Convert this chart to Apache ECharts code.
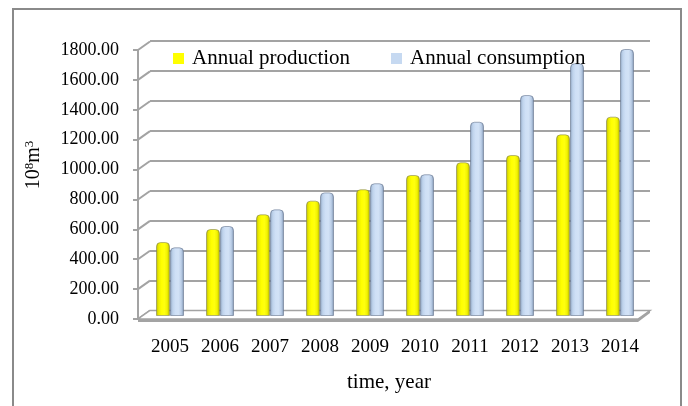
<!DOCTYPE html>
<html>
<head>
<meta charset="utf-8">
<script src="https://cdn.jsdelivr.net/npm/echarts@6/dist/echarts.min.js"></script>
<style>
  html, body { margin: 0; padding: 0; background: #fff; }
  #chart { width: 688px; height: 406px; }
</style>
</head>
<body>
<div id="chart"></div>
<script>
// Natural gas output and use per year, 10^8 m^3
const years = ['2005', '2006', '2007', '2008', '2009', '2010', '2011', '2012', '2013', '2014'];
const production = [493, 580, 678, 769, 845, 940, 1025, 1073, 1211, 1329];
const consumption = [458, 600, 711, 824, 885, 945, 1295, 1473, 1685, 1780];
const valueTicks = [0, 200, 400, 600, 800, 1000, 1200, 1400, 1600, 1800];

const SERIF = '"Liberation Serif", "Times New Roman", serif';
const WALL = '#a3a3a3';
// depth offset between the front axis plane and the back wall
const DX = 12, DY = -8.5;

const chart = echarts.init(document.getElementById('chart'), null, { renderer: 'canvas' });

function grad(stops) {
  return new echarts.graphic.LinearGradient(0, 0, 1, 0, stops.map((c, i) => ({ offset: i / (stops.length - 1), color: c })));
}
const yellowFill = grad(['#b9b900', '#eeee00', '#ffff00', '#ffff10', '#f2f200', '#a6a600']);
const blueFill = grad(['#8aa0bd', '#bfd3ec', '#cfe0f6', '#d2e2f6', '#bccfe8', '#7d93b0']);

const option = {
  animation: false,
  backgroundColor: '#fff',
  grid: [
    // bars (mid depth)
    { left: 145, right: 43, top: 46, bottom: 90 },
    // back wall
    { left: 150, right: 38, top: 41, bottom: 95 },
    // front axis plane
    { left: 138, right: 50, top: 50, bottom: 87 }
  ],
  xAxis: [
    {
      gridIndex: 0, type: 'category', data: years,
      axisLine: { show: false }, axisTick: { show: false },
      axisLabel: { margin: 22, color: '#000', fontFamily: SERIF, fontSize: 19 },
      name: 'time, year', nameLocation: 'middle', nameGap: 56,
      nameTextStyle: { color: '#000', fontFamily: SERIF, fontSize: 21, padding: [0, 12, 0, 0] }
    },
    { gridIndex: 1, type: 'value', min: 0, max: 1, show: false },
    { gridIndex: 2, type: 'value', min: 0, max: 1, show: false }
  ],
  yAxis: [
    { gridIndex: 0, type: 'value', min: 0, max: 1800, interval: 200, show: false },
    {
      gridIndex: 1, type: 'value', min: 0, max: 1800, interval: 200,
      axisLine: { show: false }, axisTick: { show: false }, axisLabel: { show: false },
      splitLine: { show: true, lineStyle: { color: WALL, width: 2 } }
    },
    {
      gridIndex: 2, type: 'value', min: 0, max: 1800, interval: 200,
      axisLine: { show: true, lineStyle: { color: WALL, width: 2 } },
      axisTick: { show: true, length: 5, lineStyle: { color: WALL, width: 2 } },
      axisLabel: {
        margin: 19, color: '#000', fontFamily: SERIF, fontSize: 18,
        formatter: v => v.toFixed(2)
      },
      splitLine: { show: false }
    }
  ],
  legend: [
    {
      left: 168, top: 43, itemWidth: 11, itemHeight: 11, itemGap: 0,
      textStyle: { color: '#000', fontFamily: SERIF, fontSize: 21, padding: [0, 0, 0, 3] },
      data: [{ name: 'Annual production', icon: 'rect', itemStyle: { color: '#ffff00', borderWidth: 0 } }]
    },
    {
      left: 386, top: 43, itemWidth: 11, itemHeight: 11, itemGap: 0,
      textStyle: { color: '#000', fontFamily: SERIF, fontSize: 21, padding: [0, 0, 0, 3] },
      data: [{ name: 'Annual consumption', icon: 'rect', itemStyle: { color: '#c6d9f1', borderWidth: 0 } }]
    }
  ],
  graphic: [
    {
      type: 'rect', silent: true, z: 100,
      shape: { x: 13, y: 9, width: 668, height: 420 },
      style: { fill: 'none', stroke: '#8a8a8a', lineWidth: 2 }
    },
    {
      type: 'text', x: 34, y: 165, rotation: Math.PI / 2, silent: true,
      style: {
        text: '{b|10}{s|8}{b|m}{s|3}',
        align: 'center', verticalAlign: 'middle',
        rich: {
          b: { fontFamily: SERIF, fontSize: 20, fill: '#000', lineHeight: 22 },
          s: { fontFamily: SERIF, fontSize: 13, fill: '#000', lineHeight: 22, verticalAlign: 'top', padding: [0, 0, 6, 0] }
        }
      }
    }
  ],
  series: [
    {
      // side wall edges and floor of the frame
      type: 'custom', xAxisIndex: 2, yAxisIndex: 2, silent: true, z: 1,
      data: valueTicks,
      renderItem: function (params, api) {
        const p = api.coord([0, api.value(0)]);
        const children = [{
          type: 'line',
          shape: { x1: p[0], y1: p[1], x2: p[0] + DX, y2: p[1] + DY },
          style: { stroke: WALL, lineWidth: 2 }
        }];
        if (params.dataIndex === 0) {
          const r = api.coord([1, 0]);
          children.push({
            type: 'polygon',
            shape: { points: [[p[0], p[1]], [r[0], r[1]], [r[0] + DX, r[1] + DY], [p[0] + DX, p[1] + DY]] },
            style: { fill: '#ffffff', stroke: WALL, lineWidth: 1.5 }
          });
          children.push({
            type: 'rect',
            shape: { x: p[0], y: p[1], width: r[0] - p[0], height: 3 },
            style: { fill: WALL }
          });
          children.push({
            type: 'polygon',
            shape: { points: [[r[0], r[1]], [r[0] + DX, r[1] + DY], [r[0] + DX, r[1] + DY + 2.5], [r[0], r[1] + 3]] },
            style: { fill: WALL }
          });
        }
        return { type: 'group', children: children };
      }
    },
    {
      name: 'Annual production', type: 'bar', xAxisIndex: 0, yAxisIndex: 0, z: 3,
      data: production, barWidth: 14, barGap: '0%',
      itemStyle: { color: yellowFill, borderColor: 'rgba(120,120,90,0.55)', borderWidth: 1, borderRadius: [4, 4, 0, 0] }
    },
    {
      name: 'Annual consumption', type: 'bar', xAxisIndex: 0, yAxisIndex: 0, z: 3,
      data: consumption, barWidth: 14, barGap: '0%',
      itemStyle: { color: blueFill, borderColor: 'rgba(100,115,140,0.6)', borderWidth: 1, borderRadius: [4, 4, 0, 0] }
    }
  ]
};

chart.setOption(option);
</script>
</body>
</html>
